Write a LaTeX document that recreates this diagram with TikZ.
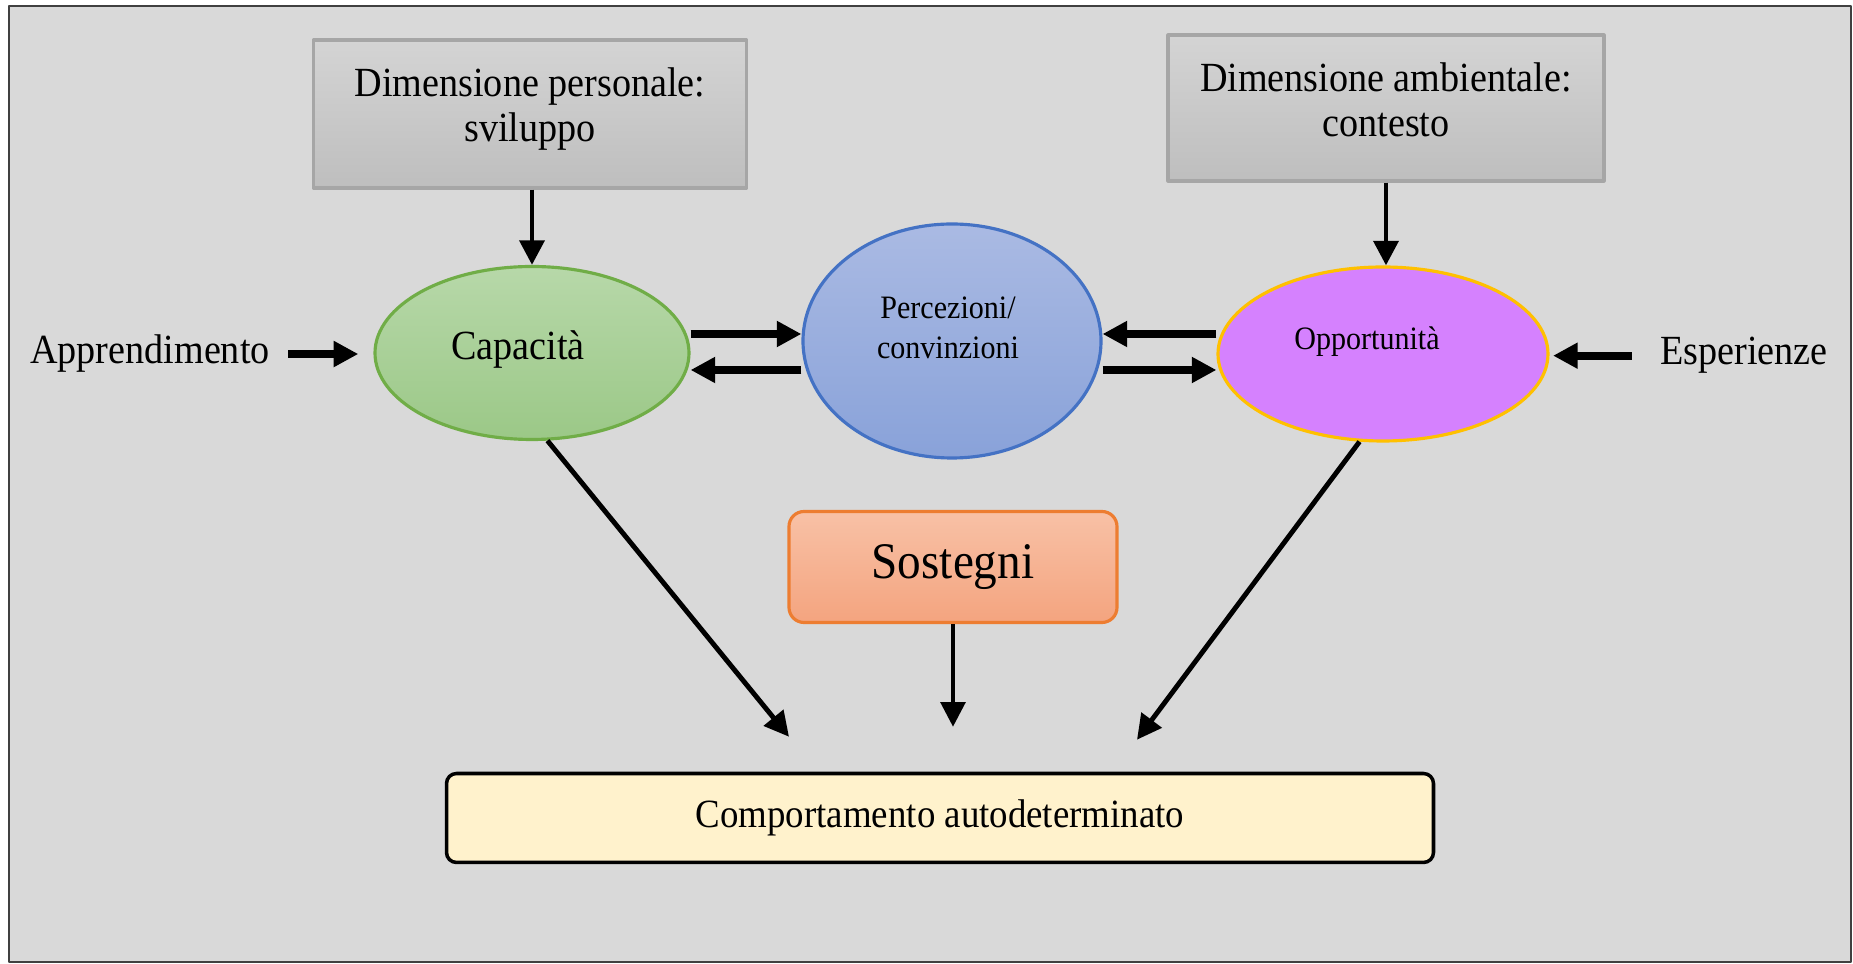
\documentclass[tikz,border=0pt]{standalone}
\usepackage{fontspec}
\setmainfont{Liberation Serif}[FakeStretch=0.92]
\usetikzlibrary{shapes.geometric,arrows.meta,calc}
\definecolor{bggray}{HTML}{D9D9D9}
\definecolor{frameline}{HTML}{404040}
\definecolor{hdrline}{HTML}{A6A6A6}
\definecolor{hdrtop}{HTML}{D4D4D4}
\definecolor{hdrbot}{HTML}{BEBEBE}
\definecolor{capline}{HTML}{70AD47}
\definecolor{captop}{HTML}{B7D8A9}
\definecolor{capbot}{HTML}{9BC887}
\definecolor{percline}{HTML}{4472C4}
\definecolor{perctop}{HTML}{AABAE3}
\definecolor{percbot}{HTML}{89A2D9}
\definecolor{oppline}{HTML}{FFC000}
\definecolor{oppfill}{HTML}{D581FE}
\definecolor{sostline}{HTML}{ED7D31}
\definecolor{sosttop}{HTML}{F8C1A6}
\definecolor{sostbot}{HTML}{F4A47F}
\definecolor{compfill}{HTML}{FFF2CC}
\begin{document}
\begin{tikzpicture}[x=0.1mm,y=-0.1mm,>={Triangle[length=7pt,width=7pt]},line join=round,
    hdr/.style={draw=hdrline,line width=0.9pt,top color=hdrtop,bottom color=hdrbot,align=center,text height=18pt,font=\fontsize{11.8}{12.8}\selectfont},
    oval/.style={ellipse,line width=0.9pt,inner sep=0pt},
    txt/.style={inner sep=0pt,font=\fontsize{11.8}{14}\selectfont},
    smalltxt/.style={inner sep=0pt,align=center,font=\fontsize{9.3}{11.4}\selectfont},
    arr/.style={->,line width=1.4pt},
    thickarr/.style={->,line width=2.2pt}]
    \useasboundingbox (0,0) rectangle (1853,964);
    \fill[white] (0,0) rectangle (1853,964);
    \draw[draw=frameline,fill=bggray,line width=0.6pt] (9,6) rectangle (1851,962);
    % dimensioni
    \node[hdr,text depth=2.4pt,minimum width=43.3mm,minimum height=14.8mm] (pers) at (530,114) {Dimensione personale:\\sviluppo};
    \node[hdr,text depth=1.8pt,minimum width=43.6mm,minimum height=14.6mm] (amb) at (1386,108) {Dimensione ambientale:\\contesto};
    % ovali
    \node[oval,draw=capline,top color=captop,bottom color=capbot,minimum width=31.4mm,minimum height=17.3mm] (cap) at (532,353) {};
    \node[oval,draw=percline,top color=perctop,bottom color=percbot,minimum width=29.8mm,minimum height=23.4mm] (perc) at (952,341) {};
    \node[oval,draw=oppline,fill=oppfill,minimum width=33mm,minimum height=17.4mm] (opp) at (1383,354) {};
    \node[txt] (captxt) at (518,350) {Capacità};
    \node[smalltxt] (perctxt) at (948,328) {Percezioni/\\convinzioni};
    \node[smalltxt] (opptxt) at (1367,342) {Opportunità};
    \node[txt,anchor=base] (appr) at (150,364) {Apprendimento};
    \node[txt,anchor=base] (esp) at (1744,365) {Esperienze};
    % sostegni e comportamento
    \node[draw=sostline,line width=0.9pt,rounded corners=1.5mm,top color=sosttop,bottom color=sostbot,minimum width=32.8mm,minimum height=11.1mm,font=\fontsize{14.6}{16}\selectfont] (sost) at (953,567) {Sostegni};
    \node[draw=black,line width=1pt,rounded corners=1mm,fill=compfill,minimum width=98.7mm,minimum height=8.9mm,font=\fontsize{11.4}{13}\selectfont] (comp) at (940,818) {Comportamento autodeterminato};
    \coordinate (capend) at ($(comp.north)+(-151,-35)$);
    \coordinate (oppend) at ($(comp.north)+(197,-32)$);
    % frecce
    \draw[arr] (pers.south -| cap.north) -- (cap.north);
    \draw[arr] (amb.south) -- (amb.south |- opp.north);
    \draw[thickarr,shorten <=5pt,shorten >=4.3pt] (appr.east) -- (appr.east -| cap.west);
    \draw[thickarr,shorten <=8pt,shorten >=1pt] (esp.west) -- (esp.west -| opp.east);
    \draw[thickarr] ($(cap.east)+(0,-19)$) -- ($(perc.west)+(0,-7)$);
    \draw[thickarr] ($(perc.west)+(0,29)$) -- ($(cap.east)+(0,17)$);
    \draw[thickarr] ($(opp.west)+(0,-20)$) -- ($(perc.east)+(0,-7)$);
    \draw[thickarr] ($(perc.east)+(0,29)$) -- ($(opp.west)+(0,16)$);
    \draw[arr] (cap.-80) -- (capend);
    \draw[arr] (opp.-105) -- (oppend);
    \draw[->,line width=1.1pt,shorten >=12.8pt] (sost.south) -- (sost.south |- comp.north);
\end{tikzpicture}
\end{document}
